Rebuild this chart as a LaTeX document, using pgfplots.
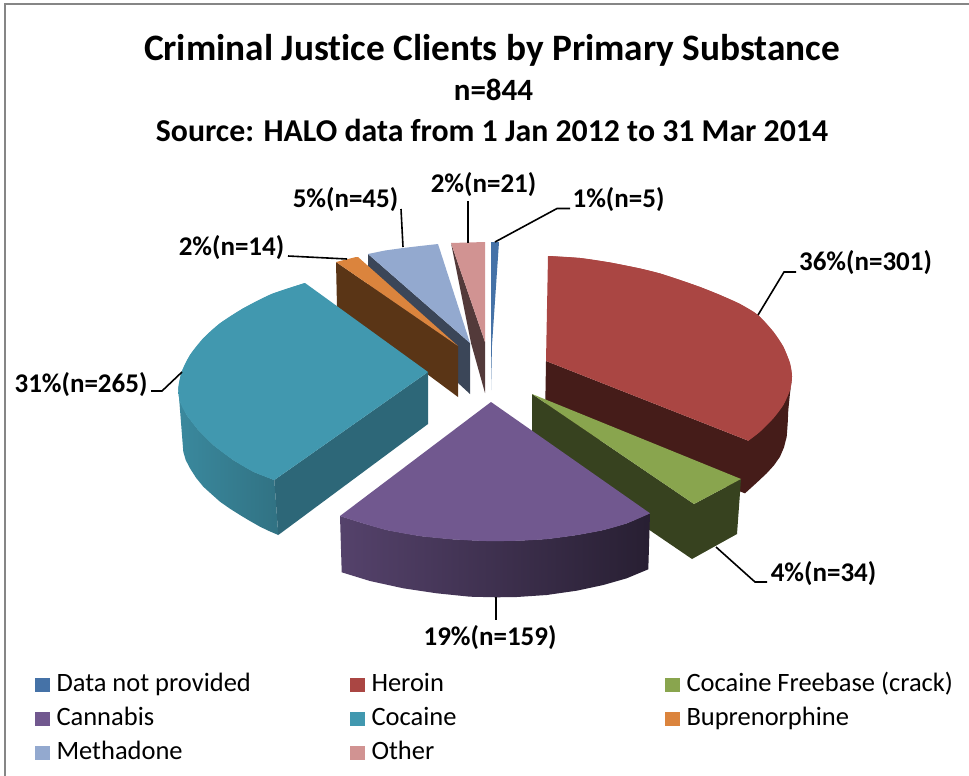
\documentclass[border=0pt]{standalone}
\usepackage{fontspec}
\setmainfont[Ligatures=NoCommon]{Carlito}
\usepackage{pgfplots}
\pgfplotsset{compat=1.18}
\definecolor{cblue}{HTML}{4572A7}
\definecolor{cred}{HTML}{AA4643}
\definecolor{cgreen}{HTML}{89A54E}
\definecolor{cpurple}{HTML}{71588F}
\definecolor{cteal}{HTML}{4198AF}
\definecolor{corange}{HTML}{DB843D}
\definecolor{cmeth}{HTML}{93A9CF}
\definecolor{cpink}{HTML}{D19392}
\definecolor{wred}{HTML}{451C19}
\definecolor{wgreen}{HTML}{37421F}
\definecolor{wteal}{HTML}{2D6778}
\definecolor{worange}{HTML}{5A3516}
\definecolor{wmeth}{HTML}{3B4658}
\definecolor{wpink}{HTML}{533A3A}
\definecolor{frame}{HTML}{868686}
\pgfplotsset{face/.style={draw=none,fill=#1,forget plot},
 lead/.style={black,line width=1.6bp,forget plot}}
\tikzset{lab/.style={font=\fontsize{27bp}{30bp}\selectfont\bfseries,anchor=center,inner sep=0pt}}
\begin{document}
\begin{tikzpicture}
\begin{axis}[scale only axis,width=969bp,height=776bp,xmin=0,xmax=969,ymin=0,ymax=776,y dir=reverse,
 hide axis,clip=true,
 legend columns=3,
 legend image code/.code={\fill[#1] (0bp,-1bp) rectangle (14.5bp,13.5bp);},
 legend style={draw=none,fill=none,at={(axis cs:35,672)},anchor=north west,inner sep=0pt,outer sep=0pt,
  font=\fontsize{26.5bp}{28bp}\selectfont,
  column sep=7bp,row sep=14bp,nodes={inner sep=0pt,outer sep=0pt,anchor=base west}},
 legend cell align=left]
% page and frame
\addplot[draw=none,fill=white,forget plot] coordinates {(0,0)(969,0)(969,776)(0,776)} --cycle;
\addplot[frame,line width=2bp,forget plot] coordinates {(5,776)(5,4)(969,4)};
% Data not provided
\addplot[face=cblue] coordinates {(491,242)(499,242)(492,345)(491,390)} --cycle;
% Other
\addplot[face=wpink] coordinates {(451,243)(485,342)(485,393)(471,343)} --cycle;
\addplot[face=cpink] coordinates {(451,243)(485,242)(485,342)} --cycle;
% Methadone
\addplot[face=wmeth] coordinates {(368,254)(470,343)(470,394)(368,300)} --cycle;
\addplot[face=cmeth] coordinates {(368,254)(385,250.5)(403,248)(420,246)(438,244)(470,343)} --cycle;
% Buprenorphine
\addplot[face=worange] coordinates {(336,262)(458,346)(458,397)(337,307)} --cycle;
\addplot[face=corange] coordinates {(336,262)(356,257)(358,257)(458,346)} --cycle;
% Cocaine
\addplot[draw=none,left color=cteal!90!black,right color=cteal!75!black,forget plot] coordinates {(178.3,388.3)(180,401.7)(186.7,415)(198.3,430)(213.3,445)(233.3,460)(253.3,471.7)(274.3,480)(278.3,535)(269,531)(260,526.7)(250,521)(240,515)(230,508.7)(220,501.7)(211.7,494.3)(203.3,486.7)(196,477.7)(190,468.3)(185.7,460)(183.3,451.7)} --cycle;
\addplot[face=wteal] coordinates {(428,372)(428,424)(278.3,535)(274.3,480)} --cycle;
\addplot[face=cteal] coordinates {(305,283)(271.7,294)(243.3,308.3)(220,323.3)(203.3,338.3)(190,355)(181.7,371.7)(178.3,388.3)(180,401.7)(186.7,415)(198.3,430)(213.3,445)(233.3,460)(253.3,471.7)(274.3,480)(428,372)} --cycle;
\addplot[face=cteal,smooth] coordinates {(305,283)(271.7,294)(243.3,308.3)(220,323.3)(203.3,338.3)(190,355)(181.7,371.7)(178.3,388.3)(180,401.7)(186.7,415)(198.3,430)(213.3,445)(233.3,460)(253.3,471.7)(274.3,480)};
% Heroin
\addplot[face=wred] coordinates {(546,361)(748.3,440.7)(790,390)(792,376.7)(790,393.3)(788.3,410)(787.7,423.3)(786.7,436.7)(784,447.3)(780,456.7)(774,465.3)(766.7,473.3)(756.7,482.7)(745,493.3)(545,420)} --cycle;
\addplot[face=cred] coordinates {(548,256)(580,258)(610,262.5)(640,268.5)(660,273.5)(680,280)(700,287)(720,295)(740,304)(758,315)(773.3,331.7)(783.3,346.7)(790,363.3)(792,376.7)(790,390)(783.3,405)(773.3,418.3)(760,431.7)(748.3,440.7)(546,361)} --cycle;
\addplot[face=cred,smooth] coordinates {(548,256)(580,258)(610,262.5)(640,268.5)(660,273.5)(680,280)(700,287)(720,295)(740,304)(758,315)(773.3,331.7)(783.3,346.7)(790,363.3)(792,376.7)(790,390)(783.3,405)(773.3,418.3)(760,431.7)(748.3,440.7)};
% Cocaine Freebase
\addplot[face=wgreen] coordinates {(532,394)(694,504)(741,479)(737,534)(692,559)(532,450)} --cycle;
\addplot[face=cgreen] coordinates {(532,394)(741,479)(694,504)} --cycle;
% Cannabis
\addplot[draw=none,left color=cpurple!75!black,right color=cpurple!35!black,forget plot] coordinates {(650,513.3)(626.7,523.3)(603.3,530)(576.7,535)(546.7,539)(516.7,540.7)(486.7,541)(453.3,539.3)(420,536)(386.7,530)(363.3,523.3)(340,516)(341.7,572.3)(370,581)(403.3,588.3)(436.7,593.3)(470,596.7)(496.7,597.3)(516.7,597)(546.7,595)(576.7,590.7)(603.3,585)(626.7,578.3)(648.3,569.3)} --cycle;
\addplot[face=cpurple] coordinates {(491,402)(650,513.3)(626.7,523.3)(603.3,530)(576.7,535)(546.7,539)(516.7,540.7)(486.7,541)(453.3,539.3)(420,536)(386.7,530)(363.3,523.3)(340,516)} --cycle;
\addplot[face=cpurple,smooth] coordinates {(650,513.3)(626.7,523.3)(603.3,530)(576.7,535)(546.7,539)(516.7,540.7)(486.7,541)(453.3,539.3)(420,536)(386.7,530)(363.3,523.3)(340,516)};
% leader lines
\addplot[lead] coordinates {(495,242)(557,208.5)(570,208.5)};
\addplot[lead] coordinates {(468,243)(468,201)};
\addplot[lead] coordinates {(403,247)(401,209)};
\addplot[lead] coordinates {(347,259)(288,256)};
\addplot[lead] coordinates {(182,372)(162,391)(151,391)};
\addplot[lead] coordinates {(758,315)(784,272)(796,272)};
\addplot[lead] coordinates {(716,547)(755,582)(767,582)};
\addplot[lead] coordinates {(496,597)(496,620)};
% legend
\addlegendimage{fill=cblue,draw=none}\addlegendentry{\makebox[286.5bp][l]{Data not provided}}
\addlegendimage{fill=cred,draw=none}\addlegendentry{\makebox[286.5bp][l]{Heroin}}
\addlegendimage{fill=cgreen,draw=none}\addlegendentry{\makebox[270bp][l]{Cocaine Freebase (crack)}}
\addlegendimage{fill=cpurple,draw=none}\addlegendentry{Cannabis}
\addlegendimage{fill=cteal,draw=none}\addlegendentry{Cocaine}
\addlegendimage{fill=corange,draw=none}\addlegendentry{Buprenorphine}
\addlegendimage{fill=cmeth,draw=none}\addlegendentry{Methadone}
\addlegendimage{fill=cpink,draw=none}\addlegendentry{Other}
% text
\node[font=\fontsize{37.3bp}{40bp}\selectfont\bfseries,inner sep=0pt] at (axis cs:492,50) {Criminal Justice Clients by Primary Substance};
\node[font=\fontsize{31bp}{34bp}\selectfont\bfseries,inner sep=0pt] at (axis cs:493.5,90) {n=844};
\node[font=\fontsize{31.8bp}{34bp}\selectfont\bfseries,inner sep=0pt] at (axis cs:492,130) {Source: HALO data from 1 Jan 2012 to 31 Mar 2014};
\node[lab] at (axis cs:483.5,185) {2\%(n=21)};
\node[lab] at (axis cs:618.5,200) {1\%(n=5)};
\node[lab] at (axis cs:345.5,200) {5\%(n=45)};
\node[lab] at (axis cs:231.5,248) {2\%(n=14)};
\node[lab] at (axis cs:865.5,263) {36\%(n=301)};
\node[lab] at (axis cs:81,385) {31\%(n=265)};
\node[lab] at (axis cs:823.5,574) {4\%(n=34)};
\node[lab] at (axis cs:490,638) {19\%(n=159)};
\end{axis}
\end{tikzpicture}
\end{document}
